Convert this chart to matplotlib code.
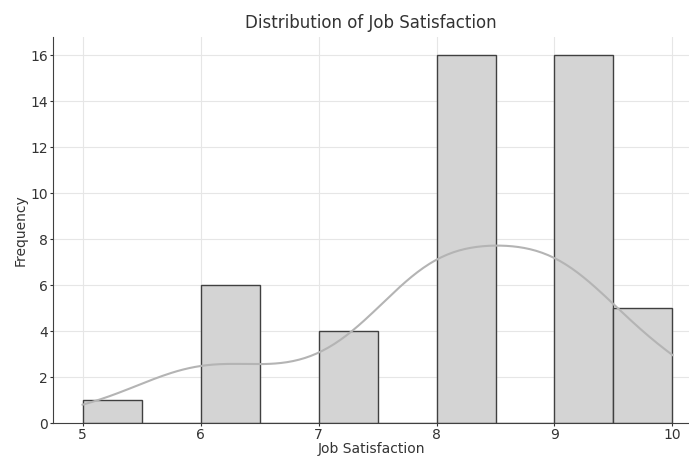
"""Histogram of job satisfaction scores with a KDE curve"""
import matplotlib
matplotlib.use("Agg")
import matplotlib.pyplot as plt
import numpy as np

# score values and how many people gave each one
SCORES = [5, 6, 7, 8, 9, 10]
COUNTS = [1, 6, 4, 16, 16, 5]
BIN_WIDTH = 0.5
BIN_LEFTS = [5.0, 5.5, 6.0, 6.5, 7.0, 7.5, 8.0, 8.5, 9.0, 9.5]
BIN_COUNTS = [1, 0, 6, 0, 4, 0, 16, 0, 16, 5]

TEXT = "#333333"

fig = plt.figure(figsize=(6.89, 4.59), dpi=100)
ax = fig.add_axes([0.077, 0.078, 0.923, 0.842])

ax.bar(BIN_LEFTS, BIN_COUNTS, width=BIN_WIDTH, align="edge",
       color="#d4d4d4", edgecolor="#404040", linewidth=1.0, zorder=2)

# gaussian kde, scott bandwidth, scaled to counts
samples = np.repeat(SCORES, COUNTS).astype(float)
n = len(samples)
bw = samples.std(ddof=1) * n ** (-1 / 5)
grid = np.linspace(min(SCORES), max(SCORES), 200)
dens = np.exp(-0.5 * ((grid[:, None] - samples[None, :]) / bw) ** 2).sum(axis=1)
dens = dens / (n * bw * np.sqrt(2 * np.pi))
ax.plot(grid, dens * n * BIN_WIDTH, color="#b4b4b4", linewidth=1.5, zorder=3)

ax.set_xlim(4.75, 10.14)
ax.set_ylim(0, 16.8)
ax.set_xticks([5, 6, 7, 8, 9, 10])
ax.set_yticks(range(0, 17, 2))
ax.grid(True, color="#e6e6e6", linewidth=0.8, zorder=0)
ax.set_axisbelow(True)
for side in ["top", "right"]:
    ax.spines[side].set_visible(False)
for side in ["left", "bottom"]:
    ax.spines[side].set_color("#404040")
ax.tick_params(colors=TEXT, labelsize=10, length=2, pad=1.5)

ax.set_title("Distribution of Job Satisfaction", fontsize=12, color=TEXT)
ax.set_xlabel("Job Satisfaction", fontsize=10, color=TEXT, labelpad=0)
ax.set_ylabel("Frequency", fontsize=10, color=TEXT, labelpad=2)

fig.savefig("out.png", dpi=100)
print("Saved out.png")
